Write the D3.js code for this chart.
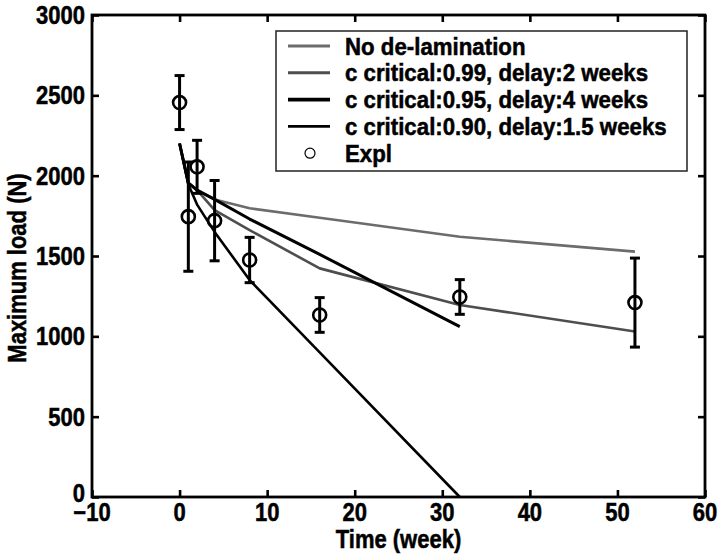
<!DOCTYPE html>
<html><head><meta charset="utf-8">
<script src="https://cdn.jsdelivr.net/npm/d3@7"></script>
<style>
html,body{margin:0;padding:0;background:#fff;}
text{font-family:"Liberation Sans",Arial,Helvetica,sans-serif;font-weight:bold;fill:#000;stroke:#000;stroke-width:0.45px;}
</style></head>
<body>
<svg id="chart" width="720" height="556"></svg>
<script>
// ---- data ----
const xTicks = [-10, 0, 10, 20, 30, 40, 50, 60];
const yTicks = [0, 500, 1000, 1500, 2000, 2500, 3000];

const explWeeks = [0, 1, 2, 4, 8, 16, 32, 52];
const explMean  = [2455, 1745, 2055, 1720, 1475, 1133, 1245, 1210];
const explErr   = [168, 340, 165, 250, 141, 108, 108, 277];

const noDelamWeeks  = [0, 1, 2, 4, 8, 16, 32, 52];
const noDelamLoad   = [2200, 1955, 1910, 1852, 1797, 1738, 1620, 1527];
const c99Weeks      = [0, 1, 2, 4, 8, 16, 32, 52];
const c99Load       = [2200, 1955, 1910, 1786, 1661, 1423, 1195, 1030];
const c95Weeks      = [0, 1, 2, 4, 8, 16, 32];
const c95Load       = [2200, 1955, 1910, 1852, 1730, 1510, 1060];
const c90Weeks      = [0, 1, 2, 4, 8, 16, 32];
const c90Load       = [2200, 1945, 1820, 1650, 1350, 900, 0];

const seriesNames = ["No de-lamination", "c critical:0.99, delay:2 weeks",
  "c critical:0.95, delay:4 weeks", "c critical:0.90, delay:1.5 weeks"];
const explName = "Expl";
const xLabel = "Time (week)";
const yLabel = "Maximum load (N)";

// ---- layout ----
const L = 92, R = 705, T = 15, B = 497;
const SY = 1.15; // vertical stretch of glyphs
const svg = d3.select("#chart");
const x = d3.scaleLinear().domain([-10, 60]).range([L, R]);
const y = d3.scaleLinear().domain([0, 3000]).range([B, T]);

const styles = [
  {color: "#6c6c6c", width: 2.6, lw: 3},
  {color: "#4e4e4e", width: 2.6, lw: 3},
  {color: "#000", width: 3.0, lw: 3.6},
  {color: "#000", width: 2.6, lw: 2.8}
];
const series = [
  {w: noDelamWeeks, v: noDelamLoad},
  {w: c99Weeks, v: c99Load},
  {w: c95Weeks, v: c95Load},
  {w: c90Weeks, v: c90Load}
];

// axes: inward ticks on all four sides, labels drawn separately
const gx = svg.append("g").attr("transform", `translate(0,${B})`)
  .call(d3.axisBottom(x).tickValues(xTicks).tickSizeInner(-7).tickSizeOuter(0).tickFormat(""));
const gxt = svg.append("g").attr("transform", `translate(0,${T})`)
  .call(d3.axisTop(x).tickValues(xTicks).tickSizeInner(-7).tickSizeOuter(0).tickFormat(""));
const gy = svg.append("g").attr("transform", `translate(${L},0)`)
  .call(d3.axisLeft(y).tickValues(yTicks).tickSizeInner(-7).tickSizeOuter(0).tickFormat(""));
const gyr = svg.append("g").attr("transform", `translate(${R},0)`)
  .call(d3.axisRight(y).tickValues(yTicks).tickSizeInner(-7).tickSizeOuter(0).tickFormat(""));
[gx, gxt, gy, gyr].forEach(g => {
  g.select(".domain").remove();
  g.selectAll(".tick line").attr("stroke", "#000").attr("stroke-width", 2.6);
});
const fmt = d3.format("d");
svg.append("g").selectAll("text").data(xTicks).join("text")
  .attr("transform", d => `translate(${x(d)},${B + 24}) scale(1,${SY})`)
  .attr("text-anchor", "middle").attr("font-size", 22).text(fmt);
svg.append("g").selectAll("text").data(yTicks).join("text")
  .attr("transform", d => `translate(${L - 7},${y(d) + (d === 0 ? 5 : 9)}) scale(1,${SY})`)
  .attr("text-anchor", "end").attr("font-size", 22).text(fmt);

// lines
const line = d3.line().x(d => x(d[0])).y(d => y(d[1]));
series.forEach((s, i) => {
  svg.append("path")
    .attr("d", line(s.w.map((w, k) => [w, s.v[k]])))
    .attr("fill", "none").attr("stroke", styles[i].color)
    .attr("stroke-width", styles[i].width).attr("stroke-linejoin", "round");
});

// experimental points with error bars
const eg = svg.append("g").attr("stroke", "#000").attr("fill", "none").attr("stroke-width", 3);
explWeeks.forEach((w, i) => {
  const cx = x(w), top = y(explMean[i] + explErr[i]), bot = y(explMean[i] - explErr[i]);
  eg.append("line").attr("x1", cx).attr("x2", cx).attr("y1", top).attr("y2", bot);
  eg.append("line").attr("x1", cx - 5).attr("x2", cx + 5).attr("y1", top).attr("y2", top);
  eg.append("line").attr("x1", cx - 5).attr("x2", cx + 5).attr("y1", bot).attr("y2", bot);
  eg.append("circle").attr("cx", cx).attr("cy", y(explMean[i])).attr("r", 6.5).attr("stroke-width", 2.6);
});

// frame
svg.append("rect").attr("x", L).attr("y", T).attr("width", R - L).attr("height", B - T)
  .attr("fill", "none").attr("stroke", "#000").attr("stroke-width", 2.8);

// legend
const lg = svg.append("g");
lg.append("rect").attr("x", 276).attr("y", 31).attr("width", 411).attr("height", 140)
  .attr("fill", "#fff").attr("stroke", "#222").attr("stroke-width", 1.5);
const rowY = i => 46 + i * 26.8;
seriesNames.forEach((n, i) => {
  lg.append("line").attr("x1", 288).attr("x2", 330).attr("y1", rowY(i)).attr("y2", rowY(i))
    .attr("stroke", styles[i].color).attr("stroke-width", styles[i].lw);
  lg.append("text").attr("transform", `translate(345,${rowY(i) + 8.5}) scale(1.06,${SY})`)
    .attr("font-size", 21).text(n);
});
lg.append("circle").attr("cx", 310).attr("cy", rowY(4)).attr("r", 5)
  .attr("fill", "none").attr("stroke", "#000").attr("stroke-width", 1.2);
lg.append("text").attr("transform", `translate(345,${rowY(4) + 8.5}) scale(1.06,${SY})`)
  .attr("font-size", 21).text(explName);

// axis labels
svg.append("text").attr("transform", `translate(${(L + R) / 2},548) scale(1,${SY})`)
  .attr("text-anchor", "middle").attr("font-size", 22).text(xLabel);
svg.append("text").attr("transform", `translate(26,268) rotate(-90) scale(1,${SY})`)
  .attr("text-anchor", "middle").attr("font-size", 22).text(yLabel);
</script>
</body></html>
